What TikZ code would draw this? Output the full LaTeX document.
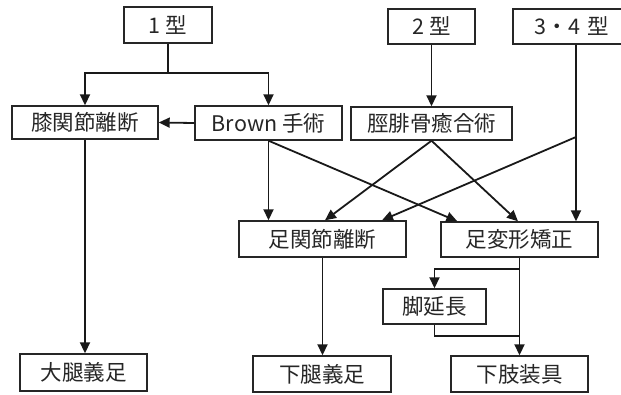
\documentclass[tikz,border=0pt]{standalone}
\usepackage{fontspec}
\setmainfont{Noto Sans CJK JP}
\usetikzlibrary{arrows.meta,calc}
\begin{document}
\begin{tikzpicture}[x=1pt,y=-1pt,
  box/.style={draw=black!85,line width=1.4pt,inner sep=0pt,font=\fontsize{21.5}{24}\selectfont,text=black!85},
  arr/.style={line width=1.8pt,draw=black!90,-{Triangle[length=11pt,width=10pt]}},
  ln/.style={line width=1.8pt,draw=black!90}]
\useasboundingbox (0,0) rectangle (621,394);
\node[box,minimum width=88pt,minimum height=36pt] (t1) at (168,25) {1 型};
\node[box,minimum width=87pt,minimum height=35pt] (t2) at (431.5,26.5) {2 型};
\node[box,minimum width=112pt,minimum height=35pt,text width=112pt,align=center] (t34) at (569,26.5) {\hspace*{6pt}3・4 型};
\node[box,minimum width=146pt,minimum height=33pt] (knee) at (85,122.5) {膝関節離断};
\node[box,minimum width=147pt,minimum height=34pt] (brown) at (268.5,123) {Brown 手術};
\node[box,minimum width=161pt,minimum height=33pt] (tib) at (431.5,123.5) {脛腓骨癒合術};
\node[box,minimum width=167pt,minimum height=36pt] (ankle) at (322.5,239) {足関節離断};
\node[box,minimum width=157pt,minimum height=35pt] (deform) at (519.5,239.5) {足変形矯正};
\node[box,minimum width=103pt,minimum height=35pt] (leg) at (434.5,306.5) {脚延長};
\node[box,minimum width=127pt,minimum height=37pt] (thigh) at (83.5,372.5) {大腿義足};
\node[box,minimum width=138pt,minimum height=36pt] (lower) at (322,374) {下腿義足};
\node[box,minimum width=137pt,minimum height=36pt] (brace) at (519.5,374) {下肢装具};
\coordinate (j1) at (168,73);
\coordinate (j34) at (576,137);
\coordinate (jd) at (519.5,269);
\coordinate (jl) at (519.5,336);
% type 1
\draw[ln] (t1.south) -- (j1);
\draw[arr] (j1) -| (knee.north);
\draw[arr] (j1) -| (brown.north);
\draw[arr] (brown.west) -- (knee.east);
\draw[arr] (knee.south) -- (knee.south |- thigh.north);
% type 2
\draw[arr] (t2.south) -- (tib.north);
% type 3-4
\draw[arr] (j34 |- t34.south) -- (j34 |- deform.north);
\draw[arr] (j34) -- ($(ankle.north)+(59.5,0)$);
% Brown
\draw[arr] (brown.south) -- (brown.south |- ankle.north);
\draw[arr] (brown.south) -- ($(deform.north west)+(17,0)$);
% tibfib
\draw[arr] (tib.south) -- ($(ankle.north)+(2.5,0)$);
\draw[arr] (tib.south) -- ($(deform.north)+(-1.5,0)$);
% lower
\draw[arr] (ankle.south) -- (ankle.south |- lower.north);
\draw[arr] (deform.south) -- (brace.north);
\draw[arr] (jd) -| (leg.north);
\draw[ln] (leg.south) |- (jl);
\end{tikzpicture}
\end{document}
